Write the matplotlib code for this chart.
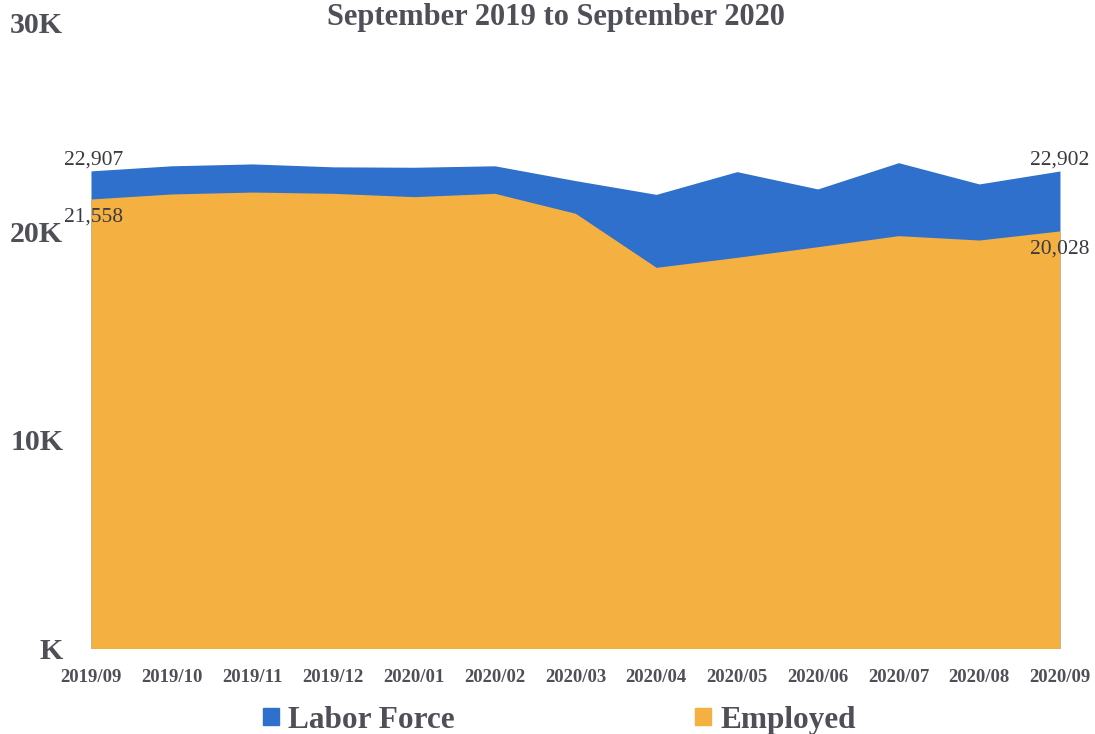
import matplotlib
matplotlib.use("Agg")
import matplotlib.pyplot as plt
from matplotlib.patches import Patch

# Monthly figures, September 2019 – September 2020
months = ["2019/09", "2019/10", "2019/11", "2019/12", "2020/01", "2020/02",
          "2020/03", "2020/04", "2020/05", "2020/06", "2020/07", "2020/08",
          "2020/09"]
labor_force = [22907, 23150, 23240, 23100, 23080, 23150, 22440, 21780,
               22870, 22040, 23300, 22280, 22902]
employed = [21558, 21800, 21890, 21830, 21670, 21830, 20870, 18280,
            18760, 19270, 19800, 19590, 20028]
y_ticks = [0, 10000, 20000, 30000]
y_tick_labels = ["K", "10K", "20K", "30K"]
title = "September 2019 to September 2020"

BLUE = "#2E70CC"
ORANGE = "#F4B040"
TEXT = "#4f4f58"
SERIF = ["Liberation Serif", "DejaVu Serif"]

plt.rcParams["font.family"] = SERIF

fig = plt.figure(figsize=(10.95, 7.34), dpi=100)
ax = fig.add_axes([0.0831, 0.1165, 0.8849, 0.8522])

x = list(range(len(months)))
ax.fill_between(x, 0, labor_force, color=BLUE, linewidth=0, label="Labor Force")
ax.fill_between(x, 0, employed, color=ORANGE, linewidth=0, label="Employed")

ax.set_xlim(0, len(months) - 1)
ax.set_ylim(0, 30000)
ax.set_yticks(y_ticks)
ax.set_yticklabels(y_tick_labels)
ax.set_xticks(x)
ax.set_xticklabels(months)
for s in ax.spines.values():
    s.set_visible(False)
ax.tick_params(axis="y", length=0, pad=20, labelsize=21.5, labelcolor=TEXT)
ax.tick_params(axis="x", length=0, pad=14.5, labelsize=13.5, labelcolor=TEXT)
for lab in ax.get_yticklabels() + ax.get_xticklabels():
    lab.set_fontweight("bold")

# End-point value labels
lab_kw = dict(fontsize=15.5, color="#3a3a40", ha="center")
for i in (0, len(months) - 1):
    ax.annotate(f"{labor_force[i]:,}", (x[i], labor_force[i]),
                xytext=(2 if i == 0 else 0, 1), textcoords="offset points",
                va="bottom", **lab_kw)
    ax.annotate(f"{employed[i]:,}", (x[i], employed[i]),
                xytext=(2 if i == 0 else 0, -6), textcoords="offset points",
                va="top", **lab_kw)

fig.text(0.508, 0.976, title, ha="center", va="center", fontsize=22,
         fontweight="bold", color=TEXT)

handles = [Patch(color=BLUE), Patch(color=ORANGE)]
fig.legend(handles, ["Labor Force", "Employed"], loc="center",
           bbox_to_anchor=(0.511, 0.019), ncol=2, frameon=False,
           prop={"size": 22.5, "weight": "bold"}, handlelength=0.5,
           handleheight=0.5, handletextpad=0.3, columnspacing=7.7,
           labelcolor=TEXT)

fig.savefig("out.png", dpi=100)
